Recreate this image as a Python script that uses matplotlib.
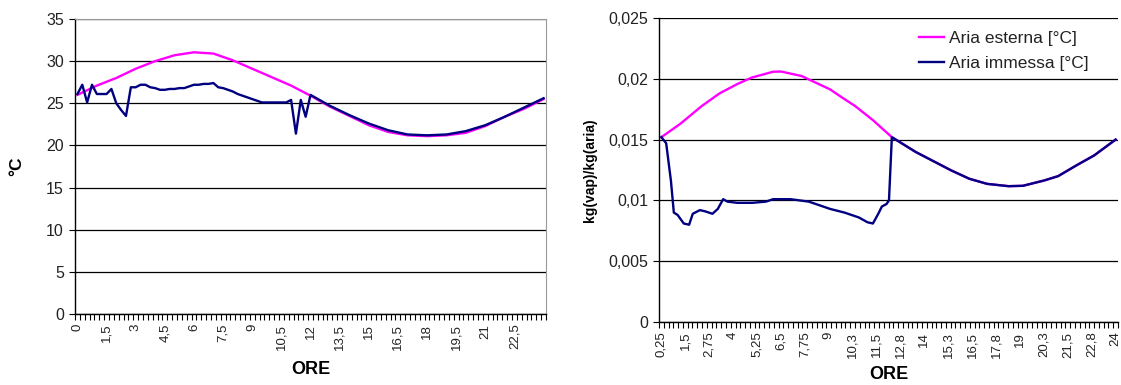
import matplotlib
matplotlib.use("Agg")
import matplotlib.pyplot as plt
import numpy as np

plt.rcParams['font.family'] = ['Liberation Sans', 'DejaVu Sans']

# ---------------- Left chart data (temperature) ----------------
hours_ext_T = [0, 1, 2, 3, 4, 5, 6, 7, 8, 9, 10, 11, 12, 13, 14, 15, 16,
               17, 18, 19, 20, 21, 22, 23, 24]
temp_ext = [26.0, 27.1, 28.0, 29.1, 30.0, 30.7, 31.05, 30.9, 30.1, 29.1, 28.1,
            27.1, 25.9, 24.6, 23.5, 22.4, 21.6, 21.2, 21.1, 21.2, 21.5, 22.3,
            23.4, 24.35, 25.5]

hours_imm_T = [0, 0.25, 0.5, 0.75, 1.0, 1.25, 1.5, 1.75, 2.0, 2.25, 2.5, 2.75,
               3.0, 3.25, 3.5, 3.75, 4.0, 4.25, 4.5, 4.75, 5.0, 5.25, 5.5, 5.75,
               6.0, 6.25, 6.5, 6.75, 7.0, 7.25, 7.5, 7.75, 8.0, 8.25, 8.5, 8.75,
               9.0, 9.25, 9.5, 9.75, 10.0, 10.25, 10.5, 10.75, 11.0, 11.25, 11.5,
               11.75, 12.0, 13, 14, 15, 16, 17, 18, 19, 20, 21, 22, 23, 24]
temp_imm = [26.1, 27.2, 25.1, 27.2, 26.1, 26.1, 26.1, 26.7, 25.0, 24.2, 23.5, 26.9,
            26.9, 27.2, 27.2, 26.9, 26.8, 26.6, 26.6, 26.7, 26.7, 26.8, 26.8, 27.0,
            27.2, 27.2, 27.3, 27.3, 27.4, 26.9, 26.8, 26.6, 26.4, 26.1, 25.9, 25.7,
            25.5, 25.3, 25.1, 25.1, 25.1, 25.1, 25.1, 25.1, 25.4, 21.4, 25.4,
            23.4, 26.0, 24.7, 23.6, 22.6, 21.8, 21.3, 21.2, 21.3, 21.7, 22.4,
            23.4, 24.5, 25.6]

left_tick_labels = ["0", "1,5", "3", "4,5", "6", "7,5", "9", "10,5", "12", "13,5",
                    "15", "16,5", "18", "19,5", "21", "22,5"]
left_yticks = [0, 5, 10, 15, 20, 25, 30, 35]

# ---------------- Right chart data (humidity ratio) ----------------
hours_ext_X = [0.25, 1.24, 2.36, 3.29, 4.22, 4.97, 6.09, 6.5, 7.58, 9.07, 9.63,
               10.38, 11.31, 12.3, 13.55, 15.4, 16.35, 17.28, 18.4, 19.15, 20.27,
               21.0, 21.95, 22.88, 24.0]
x_ext = [0.0152, 0.0163, 0.01776, 0.0188, 0.01957, 0.0201, 0.02058, 0.0206,
         0.02023, 0.01913, 0.01853, 0.01776, 0.0166, 0.0152, 0.01398, 0.01247,
         0.01178, 0.01136, 0.01117, 0.0112, 0.01164, 0.0120, 0.01288, 0.0137,
         0.0150]

hours_imm_X = [0.25, 0.5, 0.75, 0.9, 1.1, 1.42, 1.7, 1.89, 2.26, 2.54, 2.92, 3.2,
               3.48, 3.7, 4.22, 5.0, 5.72, 6.09, 7.0, 7.95, 8.33, 9.07, 9.82,
               10.57, 11.03, 11.31, 11.59, 11.78, 12.02, 12.15, 12.3, 13.55, 15.4,
               16.35, 17.28, 18.4, 19.15, 20.27, 21.0, 21.95, 22.88, 24.0]
x_imm = [0.0152, 0.0147, 0.0116, 0.0090, 0.0088, 0.0081, 0.0080, 0.0089, 0.0092,
         0.0091, 0.0089, 0.0093, 0.0101, 0.0099, 0.0098, 0.0098, 0.0099, 0.0101,
         0.0101, 0.0099, 0.0097, 0.0093, 0.0090, 0.0086, 0.0082, 0.0081, 0.0089,
         0.0095, 0.0097, 0.0100, 0.0152, 0.01398, 0.01247, 0.01178, 0.01136,
         0.01117, 0.0112, 0.01164, 0.0120, 0.01288, 0.0137, 0.0150]

right_tick_labels = ["0,25", "1,5", "2,75", "4", "5,25", "6,5", "7,75", "9", "10,3",
                     "11,5", "12,8", "14", "15,3", "16,5", "17,8", "19", "20,3",
                     "21,5", "22,8", "24"]
right_yticks = [0, 0.005, 0.01, 0.015, 0.02, 0.025]
right_ytick_labels = ["0", "0,005", "0,01", "0,015", "0,02", "0,025"]

series_names = ["Aria esterna [°C]", "Aria immessa [°C]"]

PINK = "#FF00FF"
NAVY = "#000080"

fig = plt.figure(figsize=(11.21, 3.85), dpi=100)

def style_axes(ax, xmin, xmax, label_positions, labels, yticks, ylabels, ylim):
    ax.set_xlim(xmin, xmax)
    ax.set_ylim(*ylim)
    ax.set_yticks(yticks)
    ax.set_yticklabels(ylabels, fontsize=11.5, color="#222222")
    ax.yaxis.grid(True, color="black", linewidth=0.9)
    ax.set_axisbelow(True)
    ax.set_xticks(label_positions)
    ax.set_xticklabels(labels, rotation=90, fontsize=9.5, color="#222222")
    ax.tick_params(axis="x", which="major", length=0, pad=7)
    minor = np.arange(xmin, xmax + 0.001, 0.25)
    ax.set_xticks(minor, minor=True)
    ax.tick_params(axis="x", which="minor", length=4, width=0.8, direction="out",
                   color="black")
    ax.tick_params(axis="y", length=4, width=0.8, direction="out", pad=4)
    ax.spines["left"].set_color("black")
    ax.spines["bottom"].set_color("black")
    ax.spines["top"].set_color("#999999")
    ax.spines["right"].set_color("#999999")
    ax.spines["left"].set_linewidth(1.0)
    ax.spines["bottom"].set_linewidth(1.0)

# Left chart
ax1 = fig.add_axes([75 / 1121, (385 - 314) / 385, 471 / 1121, (314 - 19) / 385])
ax1.plot(hours_ext_T, temp_ext, color=PINK, linewidth=1.7, label=series_names[0])
ax1.plot(hours_imm_T, temp_imm, color=NAVY, linewidth=1.7, label=series_names[1])
left_pos = [i * 1.5 for i in range(len(left_tick_labels))]
style_axes(ax1, -0.125, 24.125, left_pos, left_tick_labels, left_yticks,
           [str(v) for v in left_yticks], (0, 35))
ax1.set_xlabel("ORE", fontsize=13, fontweight="bold", labelpad=8)
ax1.set_ylabel("°C", fontsize=12.5, fontweight="bold", labelpad=16)

# Right chart
ax2 = fig.add_axes([659 / 1121, (385 - 322) / 385, 459 / 1121, (322 - 18) / 385])
ax2.plot(hours_ext_X, x_ext, color=PINK, linewidth=1.7, label=series_names[0])
ax2.plot(hours_imm_X, x_imm, color=NAVY, linewidth=1.7, label=series_names[1])
right_pos = [0.25 + i * 1.25 for i in range(len(right_tick_labels))]
style_axes(ax2, 0.125, 24.125, right_pos, right_tick_labels, right_yticks,
           right_ytick_labels, (0, 0.025))
ax2.spines["right"].set_visible(False)
ax2.spines["top"].set_visible(False)
ax2.set_xlabel("ORE", fontsize=13, fontweight="bold", labelpad=6)
ax2.set_ylabel("kg(vap)/kg(aria)", fontsize=10, fontweight="bold", labelpad=8)
leg = ax2.legend(loc="upper right", bbox_to_anchor=(0.965, 1.0), frameon=False,
                 fontsize=12.5, handlelength=1.45, handletextpad=0.3,
                 labelspacing=0.55, borderaxespad=0.35)
for t in leg.get_texts():
    t.set_color("#222222")

fig.savefig("out.png", dpi=100)
